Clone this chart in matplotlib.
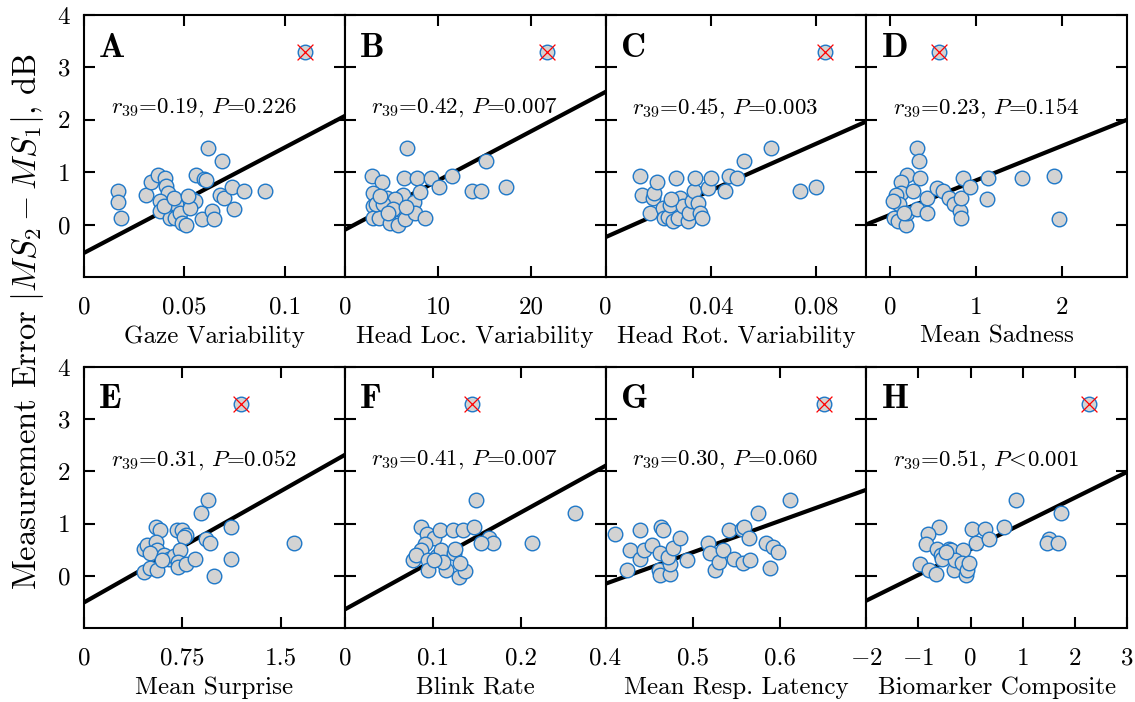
import matplotlib
matplotlib.use('Agg')
import matplotlib.pyplot as plt
import numpy as np

plt.rcParams['font.family'] = 'serif'
plt.rcParams['font.serif'] = ['cmr10']
plt.rcParams['mathtext.fontset'] = 'cm'
plt.rcParams['axes.unicode_minus'] = False

# panel data
gaze_x = [0.0168, 0.0172, 0.0185, 0.031, 0.0335, 0.037, 0.0405, 0.041, 0.042, 0.038, 0.038, 0.043,
          0.043, 0.0455, 0.046, 0.048, 0.049, 0.051, 0.054, 0.0555, 0.053, 0.056, 0.0597, 0.061,
          0.059, 0.064, 0.065, 0.062, 0.069, 0.068, 0.070, 0.074, 0.0747, 0.080, 0.090, 0.0397,
          0.0447, 0.052]
gaze_y = [0.64, 0.43, 0.13, 0.56, 0.81, 0.94, 0.89, 0.73, 0.61, 0.45, 0.26, 0.32,
          0.13, 0.13, 0.40, 0.22, 0.04, 0.0, 0.48, 0.45, 0.32, 0.94, 0.87, 0.86,
          0.10, 0.26, 0.10, 1.47, 1.21, 0.56, 0.51, 0.72, 0.30, 0.64, 0.64, 0.35,
          0.51, 0.54]

headloc_x = [2.9, 4.0, 3.0, 3.0, 3.0, 3.7, 3.4, 4.5, 4.8, 4.9, 5.7, 5.8, 6.1, 6.25, 6.5, 6.4,
             6.7, 7.4, 7.5, 7.75, 8.1, 8.6, 9.3, 10.1, 11.5, 13.7, 14.6, 15.2, 17.3, 5.4, 4.1,
             5.2, 6.6, 3.75, 4.6]
headloc_y = [0.93, 0.81, 0.61, 0.35, 0.13, 0.13, 0.40, 0.51, 0.22, 0.04, 0.0, 0.29, 0.54, 0.57,
             0.10, 0.88, 1.47, 0.43, 0.22, 0.88, 0.63, 0.13, 0.88, 0.72, 0.93, 0.64, 0.64, 1.21,
             0.71, 0.48, 0.40, 0.30, 0.33, 0.54, 0.22]

headrot_x = [0.0132, 0.0137, 0.017, 0.018, 0.0186, 0.0194, 0.0218, 0.0224, 0.0237, 0.0243, 0.0256,
             0.0269, 0.0275, 0.0282, 0.0294, 0.0314, 0.0316, 0.033, 0.0337, 0.034, 0.035, 0.036,
             0.0365, 0.039, 0.040, 0.0455, 0.0467, 0.050, 0.0525, 0.063, 0.074, 0.080, 0.025]
headrot_y = [0.93, 0.56, 0.22, 0.50, 0.61, 0.81, 0.32, 0.13, 0.15, 0.38, 0.06,
             0.88, 0.13, 0.50, 0.35, 0.06, 0.22, 0.45, 0.64, 0.88, 0.41, 0.22,
             0.13, 0.70, 0.88, 0.64, 0.93, 0.88, 1.21, 1.47, 0.64, 0.72, 0.48]

sadness_x = [0.31, 0.34, 0.20, 0.12, 0.35, 0.12, 0.065, 0.27, 0.10, 0.046, 0.085, 0.18, 0.20,
             0.31, 0.43, 0.43, 0.55, 0.62, 0.68, 0.74, 0.81, 0.82, 0.82, 0.85, 0.93, 1.13, 1.14,
             1.54, 1.91, 1.97, 0.027, 0.16]
sadness_y = [1.47, 1.21, 0.94, 0.81, 0.88, 0.61, 0.56, 0.64, 0.40, 0.13, 0.06, 0.0, 0.22,
             0.30, 0.50, 0.22, 0.70, 0.64, 0.50, 0.40, 0.26, 0.13, 0.51, 0.88, 0.72, 0.48, 0.88,
             0.88, 0.93, 0.10, 0.45, 0.22]

surprise_x = [0.95, 0.895, 1.12, 0.55, 0.58, 0.71, 0.75, 0.775, 0.76, 0.93, 0.96, 1.60, 0.455,
              0.48, 0.55, 0.557, 0.506, 0.61, 0.65, 0.685, 0.73, 0.72, 0.716, 0.78, 0.85, 1.12,
              0.99, 0.455, 0.506, 0.557, 0.596]
surprise_y = [1.46, 1.21, 0.93, 0.93, 0.88, 0.88, 0.88, 0.78, 0.75, 0.70, 0.63, 0.63, 0.52,
              0.59, 0.64, 0.49, 0.43, 0.40, 0.33, 0.38, 0.49, 0.27, 0.17, 0.22, 0.33, 0.33,
              0.0, 0.08, 0.14, 0.11, 0.30]

blink_x = [0.149, 0.261, 0.086, 0.093, 0.101, 0.108, 0.123, 0.134, 0.147, 0.164, 0.168, 0.155,
           0.212, 0.091, 0.087, 0.078, 0.081, 0.094, 0.094, 0.105, 0.109, 0.115, 0.124, 0.125,
           0.130, 0.136, 0.131, 0.112, 0.101]
blink_y = [1.46, 1.21, 0.93, 0.81, 0.72, 0.88, 0.88, 0.88, 0.93, 0.72, 0.63, 0.63,
           0.63, 0.61, 0.50, 0.30, 0.40, 0.30, 0.11, 0.38, 0.49, 0.12, 0.43, 0.52,
           -0.02, 0.09, 0.24, 0.27, 0.30]

latency_x = [0.411, 0.439, 0.464, 0.466, 0.428, 0.425, 0.440, 0.444, 0.453, 0.463, 0.461, 0.462,
             0.474, 0.474, 0.472, 0.477, 0.486, 0.493, 0.518, 0.520, 0.526, 0.530, 0.535, 0.542,
             0.547, 0.556, 0.559, 0.558, 0.564, 0.566, 0.575, 0.584, 0.589, 0.592, 0.598, 0.611]
latency_y = [0.80, 0.88, 0.93, 0.88, 0.50, 0.12, 0.33, 0.50, 0.59, 0.43, 0.11, 0.01,
             0.04, 0.22, 0.36, 0.54, 0.72, 0.30, 0.63, 0.43, 0.12, 0.27, 0.50, 0.88,
             0.33, 0.89, 0.93, 0.25, 0.72, 0.30, 1.21, 0.63, 0.14, 0.56, 0.46, 1.46]

composite_x = [0.875, 1.725, -0.61, -0.81, -0.86, -0.64, -0.575, -0.415, -0.38, -0.15, 0.03, 0.11,
               0.27, 0.35, 0.65, 1.50, 1.47, 1.67, -0.96, -0.79, -0.66, -0.54, -0.32, -0.29,
               -0.17, -0.08, -0.06, -0.03, -0.48]
composite_y = [1.46, 1.21, 0.93, 0.81, 0.61, 0.52, 0.40, 0.52, 0.49, 0.50, 0.89, 0.63,
               0.89, 0.70, 0.93, 0.70, 0.63, 0.63, 0.22, 0.12, 0.04, 0.33, 0.12, 0.30,
               0.24, 0.01, 0.11, 0.24, 0.46]

panel_x = [gaze_x, headloc_x, headrot_x, sadness_x, surprise_x, blink_x, latency_x, composite_x]
panel_y = [gaze_y, headloc_y, headrot_y, sadness_y, surprise_y, blink_y, latency_y, composite_y]

outlier_x = [0.110, 21.7, 0.0835, 0.57, 1.20, 0.144, 0.651, 2.27]
outlier_y = [3.30, 3.30, 3.30, 3.30, 3.30, 3.30, 3.30, 3.30]

fit_intercept = [-0.54, -0.10, -0.24, 0.187, -0.51, -0.645, -2.56, 0.51]
fit_slope = [20.1, 0.094, 22.3, 0.657, 1.42, 9.3, 6.02, 0.493]

letters = ['A', 'B', 'C', 'D', 'E', 'F', 'G', 'H']
xlabels = ['Gaze Variability', 'Head Loc. Variability', 'Head Rot. Variability', 'Mean Sadness',
           'Mean Surprise', 'Blink Rate', 'Mean Resp. Latency', 'Biomarker Composite']
stats = [r'$r_{39}$=0.19, $P$=0.226', r'$r_{39}$=0.42, $P$=0.007', r'$r_{39}$=0.45, $P$=0.003',
         r'$r_{39}$=0.23, $P$=0.154', r'$r_{39}$=0.31, $P$=0.052', r'$r_{39}$=0.41, $P$=0.007',
         r'$r_{39}$=0.30, $P$=0.060', r'$r_{39}$=0.51, $P\!<\!$0.001']
xlims = [(0, 0.13), (0, 28), (0, 0.099), (-0.28, 2.76), (0, 1.99), (0, 0.296), (0.4, 0.699), (-2, 3)]
xticks = [[0, 0.05, 0.1], [0, 10, 20], [0, 0.04, 0.08], [0, 1, 2], [0, 0.75, 1.5],
          [0, 0.1, 0.2], [0.4, 0.5, 0.6], [-2, -1, 0, 1, 2, 3]]
xticklabels = [['0', '0.05', '0.1'], ['0', '10', '20'], ['0', '0.04', '0.08'], ['0', '1', '2'],
               ['0', '0.75', '1.5'], ['0', '0.1', '0.2'], ['0.4', '0.5', '0.6'],
               ['$-2$', '$-1$', '0', '1', '2', '3']]
yticks = [0, 1, 2, 3, 4]

fig = plt.figure(figsize=(11.35, 7.02), dpi=100)
left0 = 84 / 1135
w = 260.75 / 1135
rows = [(1 - 277 / 702, 262 / 702), (1 - 628 / 702, 261 / 702)]

for i in range(8):
    r, c = divmod(i, 4)
    ax = fig.add_axes([left0 + c * w, rows[r][0], w, rows[r][1]])
    ax.set_xlim(*xlims[i])
    ax.set_ylim(-1, 4)
    xs = np.linspace(xlims[i][0], xlims[i][1], 2)
    ax.plot(xs, fit_intercept[i] + fit_slope[i] * xs, color='black', lw=3, zorder=2)
    ax.scatter(panel_x[i], panel_y[i], s=110, facecolor='#d3d3d3', edgecolor='#1f78c8',
               linewidth=1, zorder=3)
    ax.scatter([outlier_x[i]], [outlier_y[i]], s=110, facecolor='#d3d3d3', edgecolor='#1f78c8',
               linewidth=1, zorder=3)
    ax.scatter([outlier_x[i]], [outlier_y[i]], s=130, marker='x', color='red', linewidth=0.9,
               zorder=4)
    ax.text(0.055, 0.875, r'$\mathbf{' + letters[i] + '}$', transform=ax.transAxes,
            fontsize=25, va='center', ha='left')
    ax.text(0.46, 0.645, stats[i], transform=ax.transAxes, fontsize=16.5, ha='center', va='center')
    ax.set_xticks(xticks[i], xticklabels[i])
    ax.set_yticks(yticks)
    if c != 0:
        ax.set_yticklabels([])
    ax.tick_params(direction='in', top=True, right=True, length=8, width=1.5, labelsize=18)
    ax.tick_params(axis='x', pad=14)
    ax.tick_params(axis='y', pad=10)
    ax.set_xlabel(xlabels[i], fontsize=18, labelpad=5)
    for sp in ax.spines.values():
        sp.set_linewidth(1.5)

fig.text(0.024, 0.542, r'Measurement Error $|MS_2-MS_1|$, dB', rotation=90,
         ha='center', va='center', fontsize=23.5)

fig.savefig('out.png', dpi=100)
